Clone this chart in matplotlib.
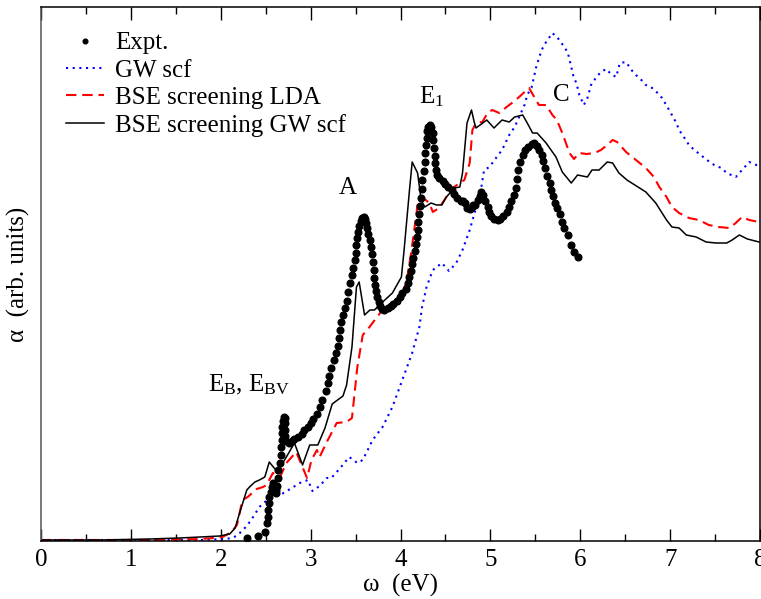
import matplotlib
matplotlib.use("Agg")
import matplotlib.pyplot as plt
from matplotlib.ticker import MultipleLocator

plt.rcParams['font.family'] = ['Liberation Serif', 'DejaVu Serif']
plt.rcParams['mathtext.fontset'] = 'custom'
plt.rcParams['mathtext.rm'] = 'Liberation Serif'
plt.rcParams['mathtext.it'] = 'Liberation Serif:italic'
plt.rcParams['mathtext.default'] = 'rm'

# ---- BSE screening GW scf (black solid) ----
gw_bse_x = [0.00, 0.66, 1.21, 1.54, 1.77, 1.99, 2.10, 2.16, 2.21, 2.29, 2.32, 2.38, 2.43, 2.49,
            2.54, 2.63, 2.73, 2.82, 2.91, 2.99, 3.08, 3.16, 3.24, 3.36, 3.40, 3.46, 3.51, 3.54,
            3.60, 3.66, 3.71, 3.79, 3.91, 4.01, 4.04, 4.10, 4.13, 4.19, 4.23, 4.27, 4.34, 4.40,
            4.46, 4.51, 4.60, 4.66, 4.69, 4.74, 4.79, 4.82, 4.84, 4.96, 5.04, 5.13, 5.21, 5.27,
            5.36, 5.41, 5.47, 5.52, 5.62, 5.73, 5.80, 5.90, 5.97, 6.08, 6.13, 6.21, 6.30, 6.36,
            6.43, 6.52, 6.66, 6.73, 6.84, 6.96, 7.02, 7.10, 7.18, 7.29, 7.40, 7.51, 7.57, 7.63,
            7.69, 7.77, 7.86, 7.99]
gw_bse_y = [1, 1, 2, 3, 4, 5, 7, 13, 28, 51, 54, 59, 61, 64,
            79, 69, 84, 98, 76, 96, 96, 113, 137, 145, 156, 194, 254, 259,
            226, 231, 231, 238, 248, 264, 291, 351, 379, 368, 341, 334, 338, 336,
            336, 344, 353, 354, 368, 418, 431, 419, 413, 421, 413, 421, 419, 424,
            426, 418, 408, 408, 398, 384, 369, 358, 366, 364, 371, 371, 379, 378,
            368, 361, 353, 349, 338, 321, 314, 313, 306, 304, 299, 298, 298, 298,
            301, 306, 302, 299]

# ---- BSE screening LDA (red dashed) ----
lda_bse_x = [0.00, 1.21, 1.77, 1.93, 2.02, 2.12, 2.18, 2.21, 2.24, 2.30, 2.40, 2.47, 2.51, 2.58,
             2.66, 2.73, 2.84, 2.90, 2.96, 3.01, 3.07, 3.10, 3.18, 3.29, 3.40, 3.46, 3.52, 3.58,
             3.63, 3.73, 3.80, 3.91, 4.01, 4.07, 4.12, 4.16, 4.19, 4.24, 4.32, 4.36, 4.43, 4.51,
             4.58, 4.66, 4.71, 4.77, 4.80, 4.84, 4.91, 4.97, 5.02, 5.10, 5.18, 5.24, 5.32, 5.38,
             5.43, 5.54, 5.62, 5.69, 5.74, 5.80, 5.84, 5.88, 5.93, 5.99, 6.07, 6.16, 6.23, 6.30,
             6.36, 6.41, 6.51, 6.62, 6.73, 6.82, 6.88, 6.96, 7.02, 7.10, 7.21, 7.32, 7.43, 7.54,
             7.66, 7.73, 7.80, 7.88, 7.99]
lda_bse_y = [1, 1, 2, 3, 4, 9, 16, 28, 41, 44, 52, 54, 56, 68,
             64, 78, 89, 76, 63, 81, 91, 84, 99, 118, 119, 123, 174, 206,
             211, 223, 231, 238, 244, 261, 289, 316, 336, 344, 338, 329, 333, 344,
             353, 358, 361, 378, 411, 418, 419, 428, 431, 428, 434, 438, 444, 449,
             453, 436, 436, 426, 421, 408, 398, 388, 382, 388, 387, 388, 391, 396,
             401, 399, 389, 381, 373, 364, 354, 344, 334, 328, 323, 321, 316, 314,
             313, 318, 324, 321, 319]

# ---- GW scf (blue dotted) ----
gw_x = [0.00, 1.21, 1.77, 2.04, 2.13, 2.19, 2.29, 2.36, 2.43, 2.49, 2.58, 2.68, 2.79, 2.88,
        2.97, 3.02, 3.10, 3.18, 3.23, 3.32, 3.43, 3.52, 3.58, 3.69, 3.80, 3.91, 4.02, 4.13,
        4.21, 4.24, 4.29, 4.36, 4.46, 4.54, 4.62, 4.69, 4.77, 4.84, 4.90, 4.93, 4.99, 5.07,
        5.13, 5.21, 5.27, 5.32, 5.38, 5.41, 5.46, 5.51, 5.57, 5.62, 5.69, 5.77, 5.82, 5.86,
        5.90, 5.92, 5.96, 5.99, 6.04, 6.08, 6.12, 6.18, 6.23, 6.29, 6.34, 6.40, 6.44, 6.51,
        6.57, 6.62, 6.68, 6.73, 6.80, 6.86, 6.91, 6.97, 7.02, 7.07, 7.10, 7.16, 7.21, 7.27,
        7.34, 7.41, 7.49, 7.57, 7.63, 7.73, 7.80, 7.88, 7.96, 7.99]
gw_y = [1, 1, 1, 2, 3, 6, 15, 24, 34, 39, 44, 47, 53, 58,
        61, 50, 55, 63, 63, 72, 84, 78, 81, 101, 114, 134, 161, 188,
        214, 234, 254, 271, 278, 270, 278, 291, 311, 333, 354, 371, 374, 384,
        391, 406, 414, 424, 436, 446, 454, 474, 491, 499, 508, 501, 494, 489,
        474, 466, 457, 446, 436, 443, 456, 464, 469, 472, 467, 464, 478, 479,
        471, 466, 461, 456, 453, 448, 443, 434, 426, 418, 411, 403, 396, 391,
        386, 381, 376, 373, 368, 364, 371, 379, 376, 376]

# ---- Experiment (black dots) ----
expt_x = [2.29, 2.41, 2.49, 2.52, 2.53, 2.53, 2.54, 2.54, 2.56, 2.57, 2.58, 2.59, 2.61, 2.62,
          2.63, 2.64, 2.64, 2.66, 2.67, 2.67, 2.68, 2.68, 2.68, 2.69, 2.70, 2.71, 2.71, 2.72,
          2.72, 2.73, 2.76, 2.79, 2.82, 2.86, 2.90, 2.93, 2.97, 3.00, 3.03, 3.07, 3.10, 3.13,
          3.17, 3.19, 3.21, 3.23, 3.26, 3.28, 3.30, 3.32, 3.33, 3.34, 3.36, 3.38, 3.40, 3.42,
          3.44, 3.46, 3.47, 3.49, 3.50, 3.51, 3.52, 3.53, 3.54, 3.56, 3.57, 3.59, 3.61, 3.62,
          3.63, 3.64, 3.66, 3.67, 3.68, 3.69, 3.70, 3.71, 3.72, 3.73, 3.74, 3.76, 3.77, 3.79,
          3.82, 3.86, 3.89, 3.92, 3.96, 3.99, 4.02, 4.06, 4.08, 4.10, 4.12, 4.13, 4.14, 4.16,
          4.17, 4.18, 4.19, 4.20, 4.21, 4.22, 4.23, 4.24, 4.24, 4.26, 4.27, 4.27, 4.28, 4.29,
          4.30, 4.31, 4.33, 4.34, 4.36, 4.36, 4.37, 4.38, 4.38, 4.39, 4.41, 4.43, 4.47, 4.50,
          4.53, 4.57, 4.60, 4.63, 4.67, 4.70, 4.72, 4.74, 4.77, 4.79, 4.81, 4.83, 4.86, 4.88,
          4.90, 4.92, 4.94, 4.97, 4.99, 5.01, 5.04, 5.08, 5.11, 5.14, 5.18, 5.21, 5.23, 5.26,
          5.28, 5.30, 5.31, 5.33, 5.36, 5.39, 5.42, 5.46, 5.49, 5.52, 5.54, 5.57, 5.59, 5.61,
          5.63, 5.66, 5.68, 5.70, 5.72, 5.74, 5.78, 5.80, 5.82, 5.86, 5.90, 5.93, 5.97]
expt_y = [3, 5, 9, 18, 24, 31, 38, 44, 49, 54, 58, 54, 51, 48,
          55, 63, 71, 78, 86, 94, 101, 108, 114, 120, 124, 123, 118, 111,
          105, 100, 98, 100, 102, 104, 107, 111, 114, 118, 122, 127, 134, 141,
          150, 158, 165, 173, 181, 188, 195, 203, 211, 219, 226, 233, 240, 249,
          258, 266, 273, 281, 288, 296, 303, 309, 315, 320, 323, 324, 322, 318,
          313, 307, 301, 294, 287, 279, 271, 263, 256, 250, 244, 239, 235, 232,
          231, 233, 235, 237, 240, 244, 248, 252, 258, 264, 270, 277, 283, 290,
          297, 304, 311, 319, 327, 335, 343, 352, 361, 370, 379, 388, 396, 403,
          410, 414, 416, 414, 408, 401, 393, 385, 378, 371, 366, 363, 360, 357,
          354, 351, 347, 343, 340, 340, 338, 333, 332, 334, 336, 336, 341, 345,
          349, 346, 340, 334, 329, 325, 322, 321, 322, 325, 329, 334, 340, 346,
          353, 362, 371, 379, 386, 391, 394, 397, 398, 395, 391, 386, 380, 373,
          365, 358, 351, 345, 338, 333, 327, 319, 313, 306, 296, 289, 284]

labels = ["Expt.", "GW scf", "BSE screening LDA", "BSE screening GW scf"]

fig = plt.figure(figsize=(7.61, 5.99), dpi=100)
ax = fig.add_axes([41/761, 58/599, 719/761, 534/599])

ax.plot(expt_x, expt_y, linestyle='none', marker='o', markersize=4.8,
        color='black', label=labels[0], zorder=5)
ax.plot(gw_x, gw_y, color='#0000ff', linestyle=(0, (1, 2.2)), linewidth=1.5,
        label=labels[1])
ax.plot(lda_bse_x, lda_bse_y, color='#ff0000', linestyle=(0, (5, 2.8)), linewidth=1.5,
        label=labels[2])
ax.plot(gw_bse_x, gw_bse_y, color='black', linewidth=1.1, label=labels[3])

ax.set_xlim(0, 8)
ax.set_ylim(0, 534)
ax.xaxis.set_major_locator(MultipleLocator(1))
ax.xaxis.set_minor_locator(MultipleLocator(0.5))
ax.tick_params(axis='x', which='both', direction='in', top=True, bottom=True,
               labelsize=18, pad=6)
ax.tick_params(axis='x', which='major', length=9, width=1.0)
ax.tick_params(axis='x', which='minor', length=5, width=1.0)
ax.tick_params(axis='y', which='both', left=False, right=False, labelleft=False)
for s in ax.spines.values():
    s.set_linewidth(1.1)
ax.spines['left'].set_color('#555555')

ax.set_xlabel("ω  (eV)", fontsize=18, labelpad=2)
ax.set_ylabel("α  (arb. units)", fontsize=18, labelpad=8)

ax.text(3.41, 353, "A", fontsize=18, ha='center', va='center')
ax.text(4.21, 444, "E$_{1}$", fontsize=18, ha='left', va='center')
ax.text(5.79, 446, "C", fontsize=18, ha='center', va='center')
ax.text(1.86, 156, "E$_{\\mathrm{B}}$, E$_{\\mathrm{BV}}$", fontsize=18, ha='left', va='center')

leg = ax.legend(loc='upper left', frameon=False, fontsize=18, handlelength=1.5,
                handletextpad=0.45, labelspacing=0.19, borderaxespad=0.3,
                borderpad=0.7, markerscale=0.7)

fig.savefig("out.png", dpi=100)
